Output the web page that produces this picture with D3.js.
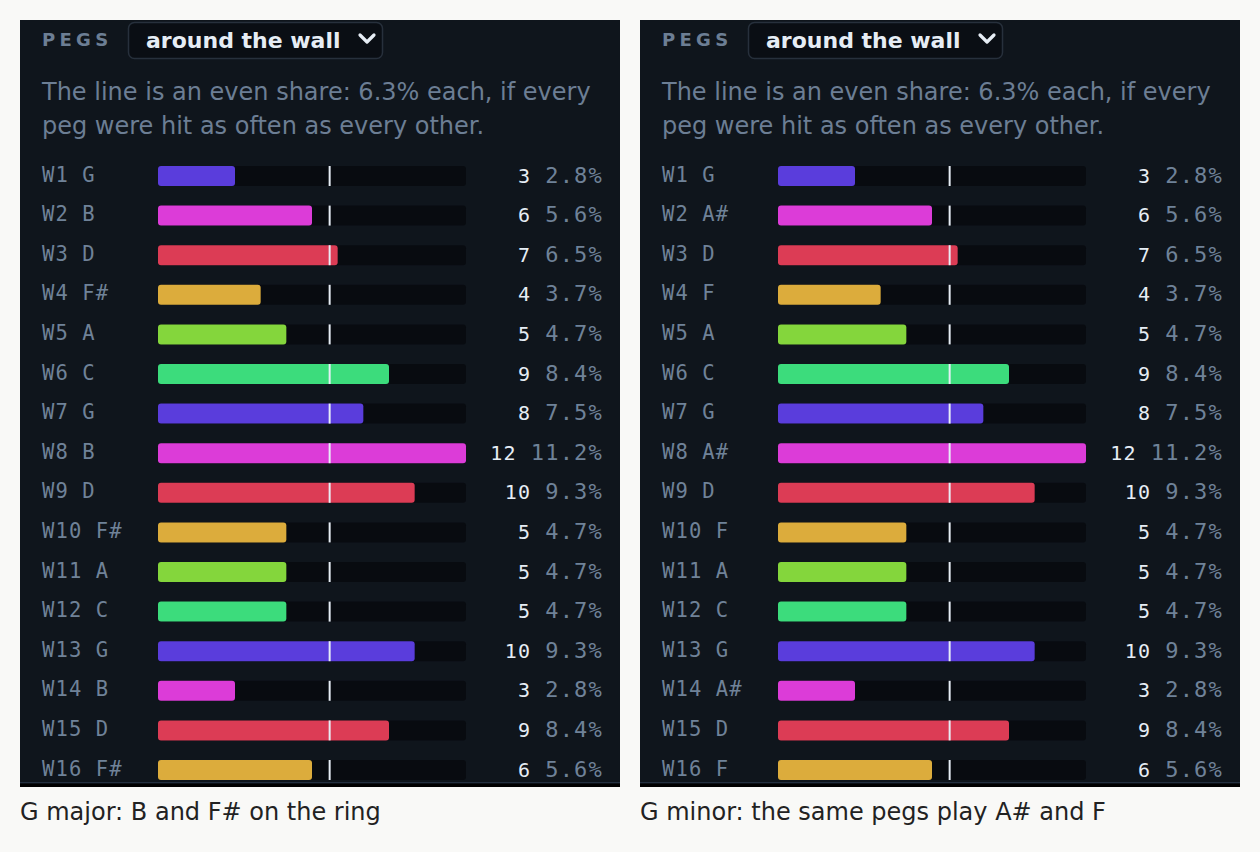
<!DOCTYPE html>
<html><head><meta charset="utf-8">
<script src="https://cdn.jsdelivr.net/npm/d3@7"></script>
<style>
html,body{margin:0;padding:0;background:#f9f9f7;}
svg{display:block;}
</style></head>
<body>
<svg id="chart" width="1260" height="852"></svg>
<script>
const pegs = ["W1","W2","W3","W4","W5","W6","W7","W8","W9","W10","W11","W12","W13","W14","W15","W16"];
const notesMajor = ["G","B","D","F#","A","C","G","B","D","F#","A","C","G","B","D","F#"];
const notesMinor = ["G","A#","D","F","A","C","G","A#","D","F","A","C","G","A#","D","F"];
const counts = [3,6,7,4,5,9,8,12,10,5,5,5,10,3,9,6];
const noteColors = {"G":"#5a3ddc","B":"#dc3cd8","D":"#dc3c55","F#":"#dcac3c","A":"#84d63c","C":"#3cdc7c"};
const captions = ["G major: B and F# on the ring","G minor: the same pegs play A# and F"];
const headerLabel = "PEGS";
const selectLabel = "around the wall";
const noteLine1 = "The line is an even share: 6.3% each, if every";
const noteLine2 = "peg were hit as often as every other.";

const total = d3.sum(counts);
const pcts = counts.map(c => c / total * 100);
const evenShare = 100 / pegs.length;

const svg = d3.select("#chart");
const mono = "'DejaVu Sans Mono', monospace";
const sans = "'DejaVu Sans', sans-serif";

const x = d3.scaleLinear().domain([0, d3.max(pcts)]).range([0, 308]);
const y = d3.scaleBand().domain(pegs).range([146, 146 + 39.6*15 + 20]).paddingInner(0.495).paddingOuter(0);

[notesMajor, notesMinor].forEach((notes, p) => {
  const g = svg.append("g").attr("transform", `translate(${20 + p*620},20)`);
  const W = 600, H = 767;
  const clipId = "clip" + p;
  g.append("clipPath").attr("id", clipId).append("rect").attr("width", W).attr("height", 762);
  g.append("rect").attr("width", W).attr("height", H).attr("fill", "#0f151c");
  g.append("rect").attr("y", 762).attr("width", W).attr("height", 1.5).attr("fill", "#243040");
  g.append("rect").attr("y", 763.5).attr("width", W).attr("height", 3.5).attr("fill", "#000000");

  const c = g.append("g").attr("clip-path", `url(#${clipId})`);
  c.append("text").attr("x", 22).attr("y", 26).text(headerLabel)
    .attr("font-family", sans).attr("font-weight", "bold").attr("font-size", 18)
    .attr("letter-spacing", 4.3).attr("fill", "#6c7e94");
  c.append("rect").attr("x", 108.5).attr("y", 2.5).attr("width", 254).attr("height", 36).attr("rx", 6)
    .attr("fill", "#0a0e14").attr("stroke", "#27303c").attr("stroke-width", 1.5);
  c.append("text").attr("x", 126).attr("y", 28).text(selectLabel)
    .attr("font-family", sans).attr("font-weight", "bold").attr("font-size", 22)
    .attr("fill", "#e6edf5");
  c.append("path").attr("d", "M340,15 L347,22 L354,15").attr("fill", "none")
    .attr("stroke", "#e6edf5").attr("stroke-width", 3.2).attr("stroke-linecap", "round").attr("stroke-linejoin", "round");
  c.append("text").attr("x", 22).attr("y", 80).text(noteLine1)
    .attr("font-family", sans).attr("font-size", 24).attr("fill", "#6c7e94");
  c.append("text").attr("x", 22).attr("y", 114).text(noteLine2)
    .attr("font-family", sans).attr("font-size", 24).attr("fill", "#6c7e94");

  const rows = c.selectAll("g.row").data(pegs).join("g").attr("class", "row")
    .attr("transform", d => `translate(0,${y(d)})`);
  const bh = y.bandwidth();
  rows.append("text").attr("x", 22).attr("y", bh/2 + 5.5)
    .text((d,i) => d + " " + notes[i])
    .attr("font-family", mono).attr("font-size", 20.5).attr("letter-spacing", 1.1).attr("fill", "#6f8298");
  rows.append("rect").attr("x", 138).attr("width", x.range()[1]).attr("height", bh).attr("rx", 3)
    .attr("fill", "#080b10");
  rows.append("rect").attr("x", 138).attr("width", (d,i) => x(pcts[i])).attr("height", bh).attr("rx", 3)
    .attr("fill", (d,i) => noteColors[notesMajor[i]]);
  rows.append("rect").attr("x", 138 + x(evenShare) - 1).attr("width", 2).attr("height", bh)
    .attr("fill", "#e6edf5");
  const t = rows.append("text").attr("x", 583).attr("y", bh/2 + 6.5).attr("text-anchor", "end")
    .attr("font-family", mono).attr("letter-spacing", 1.2);
  t.append("tspan").attr("font-size", 20).attr("fill", "#e6edf5").text((d,i) => counts[i]);
  t.append("tspan").attr("font-size", 22).attr("fill", "#6f8298").attr("dx", 14).text((d,i) => pcts[i].toFixed(1) + "%");

  svg.append("text").attr("x", 20 + p*620).attr("y", 820).text(captions[p])
    .attr("font-family", sans).attr("font-size", 24).attr("fill", "#222222");
});
</script>
</body></html>
